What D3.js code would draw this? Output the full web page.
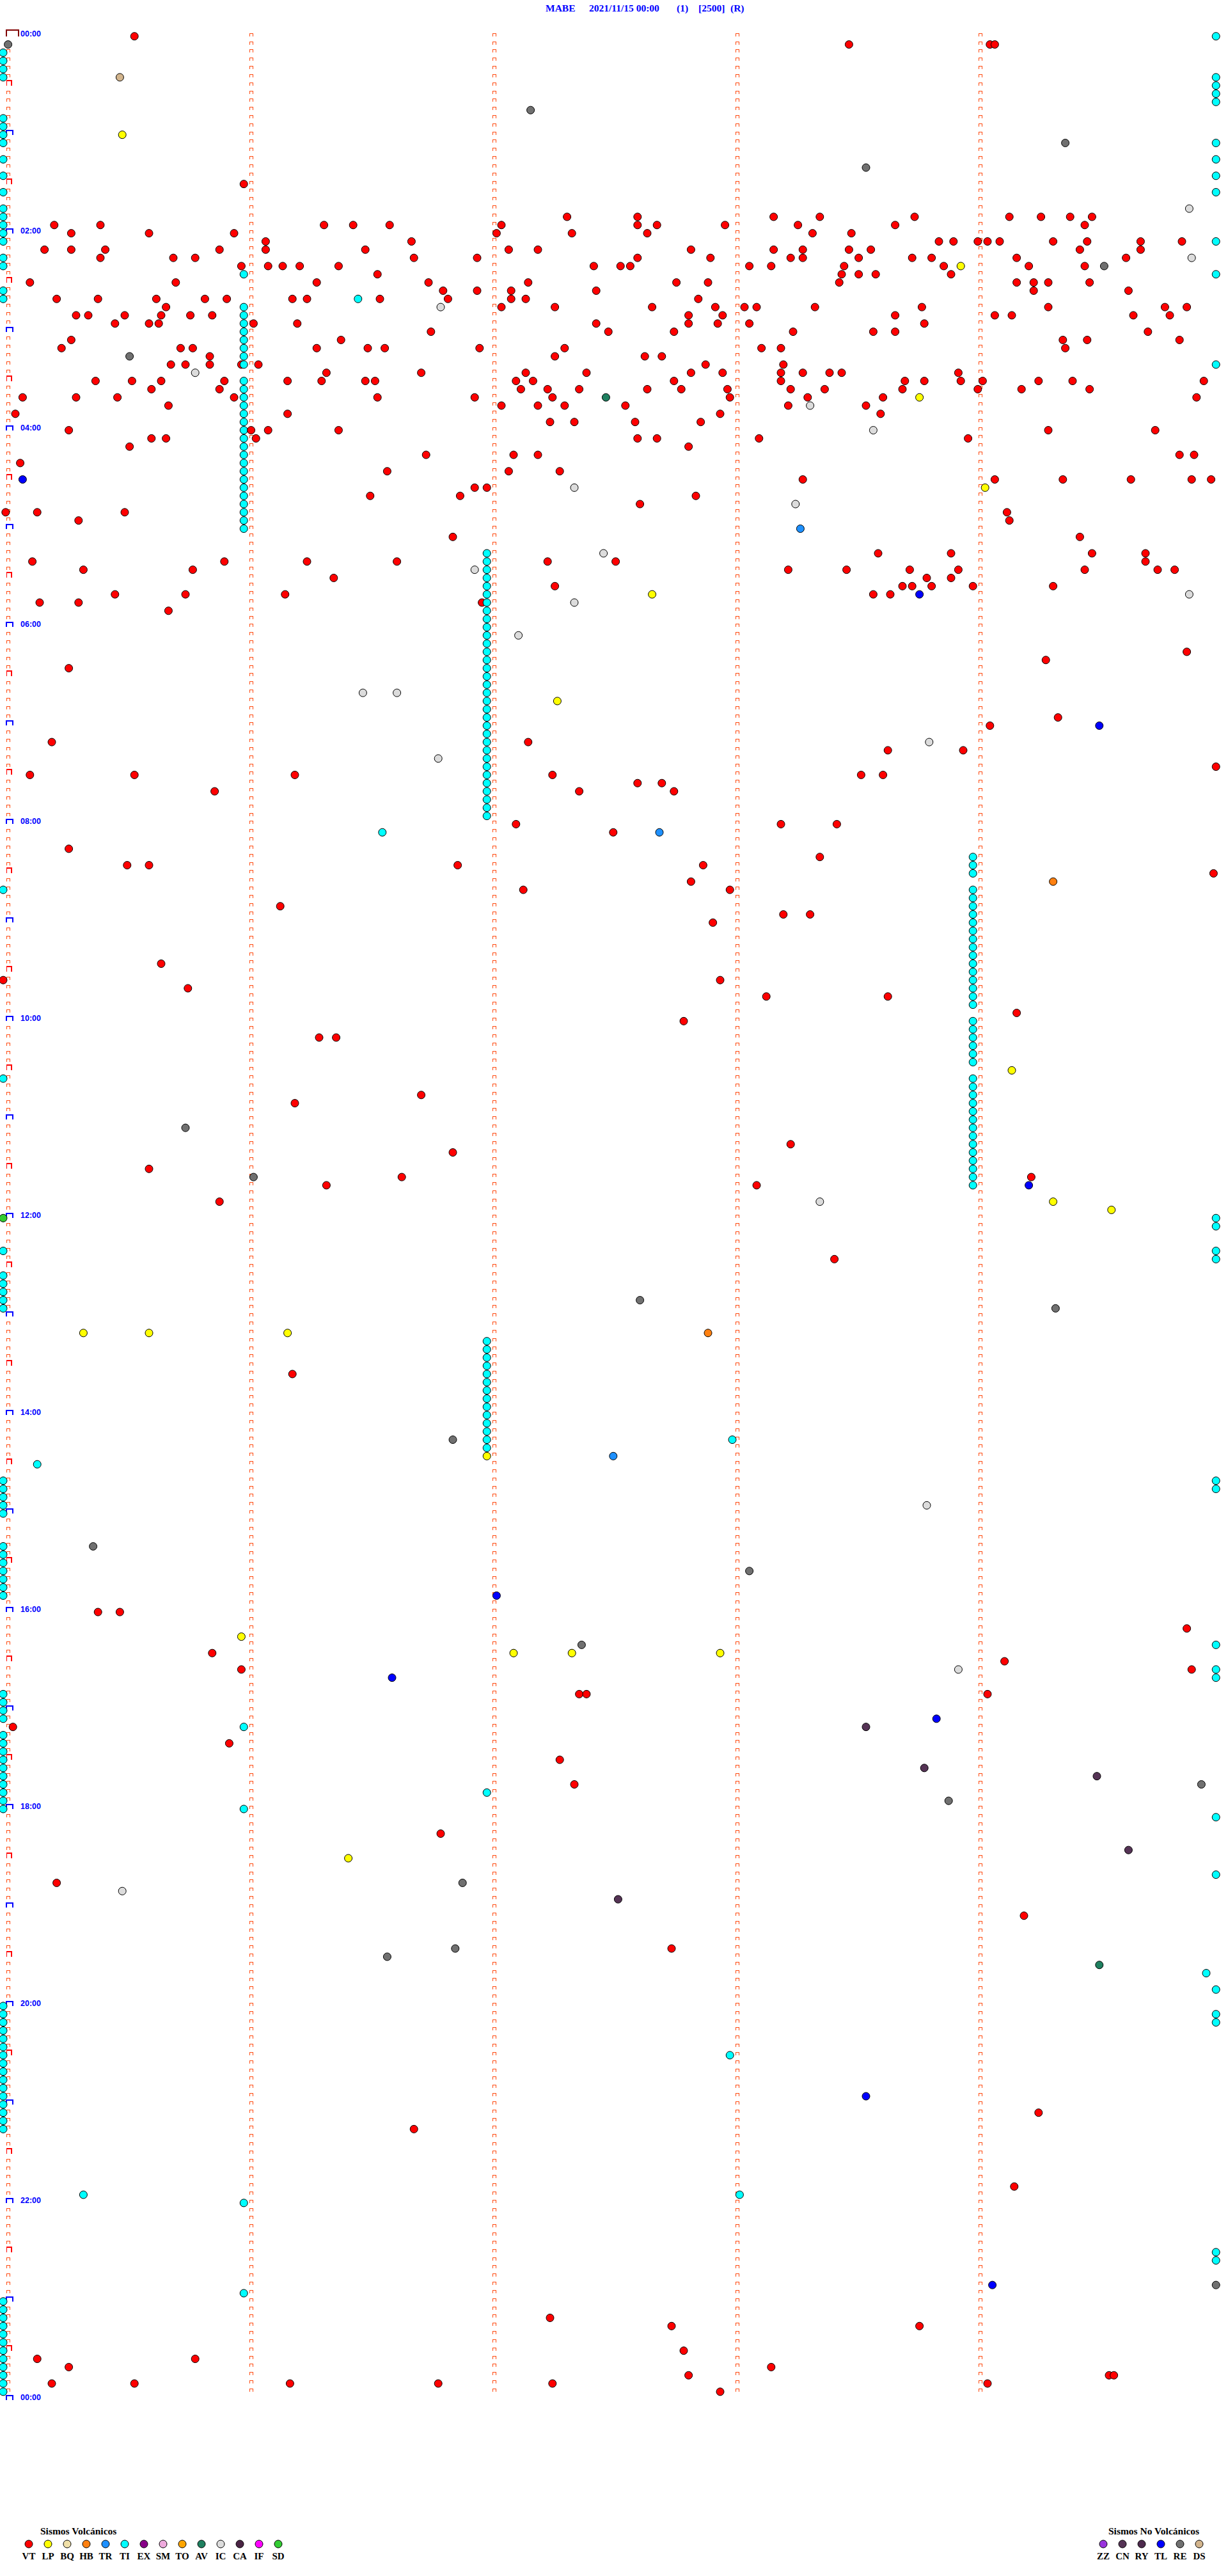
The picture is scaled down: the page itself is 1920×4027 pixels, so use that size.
<!DOCTYPE html>
<html><head><meta charset="utf-8">
<script src="https://cdn.jsdelivr.net/npm/d3@7"></script>
<style>body{margin:0;background:#fff}svg{display:block}</style>
</head><body>
<svg id="c" width="1920" height="4027"></svg>
<script>
// ---- axis / layout data ----
const rowMinutes = 5;          // each drum line = 5 minutes
const rowCount = 288;          // 24 h
const minuteTicks = [0, 1, 2, 3, 4];
const hourLabels = ["00:00","02:00","04:00","06:00","08:00","10:00","12:00","14:00","16:00","18:00","20:00","22:00","00:00"];
const titleParts = ["MABE", "2021/11/15 00:00", "(1)", "[2500]", "(R)"];

// ---- legend ----
const volcanicCodes  = ["VT","LP","BQ","HB","TR","TI","EX","SM","TO","AV","IC","CA","IF","SD"];
const volcanicColors = ["#ff0000","#ffff00","#f0e0a8","#ff8010","#1e90ff","#00ffff","#880088","#eeaadd","#ffa500","#1f8060","#dcdcdc","#4a2444","#ff00ff","#33cc33"];
const nonVolcCodes   = ["ZZ","CN","RY","TL","RE","DS"];
const nonVolcColors  = ["#9933dd","#553355","#4d2a4d","#0000ff","#707070","#d2b48c"];

// ---- events: minutes after 00:00 ----
const vtTimes = [0.54,8.48,9.06,9.08,90.99,
112.32,112.61,113.17,113.36,113.75,114.14,114.27,114.39,114.48,
115.21,115.40,116.32,116.44,116.59,117.05,117.61,117.69,117.97,118.27,118.67,119.45,
120.28,120.60,120.95,122.03,122.34,122.65,123.33,123.49,
126.08,126.68,128.85,128.91,129.01,129.05,129.10,129.32,129.46,129.68,129.85,
130.17,130.28,130.42,130.89,131.08,131.49,132.08,132.20,132.83,133.17,133.29,133.48,133.57,134.43,134.68,
135.40,135.70,135.79,136.69,136.95,137.61,137.91,138.24,138.29,138.52,138.74,138.82,139.17,139.62,
140.98,141.09,141.15,141.22,141.38,142.43,142.54,142.58,143.07,143.16,143.46,143.87,144.22,144.45,
146.54,148.45,148.52,148.59,148.90,
150.11,150.71,151.29,151.75,152.16,152.77,152.90,153.44,154.17,154.24,154.30,154.47,
156.81,156.95,157.09,157.44,159.24,159.63,
160.22,160.39,160.63,160.83,160.92,161.19,161.25,161.55,161.83,162.09,162.15,162.86,
165.67,167.05,167.27,167.67,167.93,168.05,168.10,168.34,168.78,169.30,169.78,169.87,
170.30,170.35,170.50,170.65,170.77,170.86,172.82,172.96,173.67,174.08,174.15,174.65,174.80,
175.46,175.60,175.64,176.03,176.21,177.44,177.82,177.94,178.07,178.79,
181.76,182.49,182.76,183.25,183.58,183.67,184.71,
185.28,186.39,189.36,189.46,189.84,
190.24,190.73,190.78,191.29,191.50,191.57,191.96,192.31,193.12,193.20,194.37,
195.85,197.27,197.64,197.71,
200.69,200.75,200.85,200.98,201.05,202.89,203.21,
206.33,206.72,207.15,207.40,207.83,207.96,208.20,208.29,208.40,208.45,208.93,
210.38,210.53,210.65,210.91,211.17,211.31,211.49,211.53,212.11,212.18,212.76,213.20,213.71,213.79,213.94,214.03,214.26,214.40,214.94,
215.61,215.89,217.13,217.24,217.37,217.65,217.79,217.98,218.24,218.38,218.70,219.01,219.19,219.47,
220.08,220.30,220.47,220.95,221.54,221.94,222.26,222.99,223.31,223.62,224.91,
225.68,227.05,227.20,227.31,227.56,228.23,228.55,
230.05,231.17,232.95,233.61,
237.25,237.35,237.60,237.87,
240.27,241.02,241.09,241.38,244.30,244.74,
245.61,245.67,246.04,247.61,247.69,248.11,248.97,
250.52,252.82,
256.74,257.10,257.20,259.84,259.90,
260.07,266.58,267.08,267.29,
273.29,274.08,274.36,274.64,274.89,274.97,
276.94,276.99,281.51,281.88,282.85,287.62,
290.01,290.14,290.50,294.13,295.31,299.14,306.85,309.43,
318.60,318.90,319.48,319.70,
320.12,320.91,321.25,321.62,322.24,322.52,324.70,
325.33,325.78,328.23,328.47,328.73,328.93,329.45,329.75,329.82,
331.36,333.80,333.90,
337.27,338.70,338.74,338.82,338.99,339.32,
340.46,340.75,341.16,343.58,343.65,
345.15,345.31,346.97,350.68,
379.87,384.29,385.27,419.34,424.06,430.20,432.16,438.64,438.95,449.99,
450.11,450.54,451.20,452.26,453.53,453.62,457.61,457.71,460.87,462.37,462.76,
482.11,483.20,483.43,487.51,495.27,503.36,505.51,505.60,506.87,507.88,514.98,517.83,522.14,522.99,
531.14,538.21,538.32,542.92,565.65,575.00,577.95,580.76,588.14,588.64,599.17,602.80,611.30,611.37,
646.72,651.20,678.24,681.85,690.60,696.64,699.23,701.33,703.10,710.89,748.42,816.19,
960.39,960.48,974.87,985.86,994.12,995.98,999.89,1012.37,1012.40,1014.05,1030.04,1040.93,1052.29,1067.35,
1096.80,1125.22,1149.20,1167.75,1269.26,1276.69,1314.16,
1392.25,1397.75,1398.77,1412.80,1415.14,1415.79,1420.27,1423.16,1427.82,1429.55,1429.57,
1430.20,1430.54,1431.18,1431.79,1432.26,1434.05,1437.95];

const tiTimes = [10,15,20,25,50,55,60,65,75,85,95,105,110,115,120,125,135,140,155,160,
520,635,740,755,760,765,770,775,880,885,890,895,900,920,925,930,935,940,945,950,
1010,1015,1020,1025,1035,1040,1045,1050,1055,1060,1065,1070,1075,1080,
1200,1205,1210,1215,1220,1225,1230,1235,1240,1245,1250,1255,1260,1265,1270,1275,
1380,1385,1390,1395,1400,1405,1410,1415,1420,1425,1430,1435,
4.99,29.99,34.99,39.99,44.99,69.99,79.99,89.99,99.99,129.99,149.99,204.99,
724.99,729.99,744.99,749.99,884.99,889.99,984.99,999.99,1004.99,1089.99,1124.99,1184.95,1194.99,1209.99,1214.99,1354.99,1359.99,
145.99,165.99,170.99,175.99,180.99,185.99,190.99,195.99,200.99,210.99,215.99,220.99,225.99,230.99,235.99,240.99,245.99,
250.99,255.99,260.99,265.99,270.99,275.99,280.99,285.99,290.99,295.99,300.99,
316.99,321.99,326.99,331.99,336.99,341.99,346.99,351.99,356.99,361.99,366.99,371.99,376.99,381.99,386.99,391.99,396.99,
401.99,406.99,411.99,416.99,421.99,426.99,431.99,436.99,441.99,446.99,451.99,456.99,461.99,466.99,471.99,476.99,
796.99,801.99,806.99,811.99,816.99,821.99,826.99,831.99,836.99,841.99,846.99,851.99,856.99,861.99,
503.99,508.99,513.99,523.99,528.99,533.99,538.99,543.99,548.99,553.99,558.99,563.99,568.99,573.99,578.99,583.99,588.99,593.99,
603.99,608.99,613.99,618.99,623.99,628.99,638.99,643.99,648.99,653.99,658.99,663.99,668.99,673.99,678.99,683.99,688.99,693.99,698.99,703.99,
161.46,486.56,858.00,870.14,1030.99,1071.99,1080.99,1232.99,1315.33,1318.03,1320.99,1375.99];

const lpTimes = [60.49,143.94,223.77,279.04,342.67,407.28,634.15,714.32,719.56,790.33,790.60,791.17,866.99,975.98,987.10,987.34,987.95,1111.42];
const icTimes = [109.88,139.89,166.80,205.79,228.32,243.58,277.35,288.26,317.47,326.94,344.88,347.35,367.12,401.48,401.62,433.81,441.79,713.36,898.80,998.93,1130.49];
const reTimes = [5.02,47.17,69.37,83.55,144.53,195.52,665.75,696.03,772.62,779.33,856.85,920.37,938.07,982.38,1069.93,1078.89,1126.89,1166.86,1171.58,1374.99];
const cnTimes = [1033.55,1058.79,1064.50,1109.63,1137.53];
const dsTimes = [25.48];
const tlTimes = [270.08,343.77,424.51,704.22,952.03,1001.60,1028.84,1258.55,1374.07];
const trTimes = [303.28,487.70,867.51];
const hbTimes = [519.32,792.90];
const avTimes = [222.48,1179.51];
const sdTimes = [720.00];

// ---- build ----
const colorOf = {};
volcanicCodes.forEach((c,i)=>colorOf[c]=volcanicColors[i]);
nonVolcCodes.forEach((c,i)=>colorOf[c]=nonVolcColors[i]);
const series = [["VT",vtTimes],["LP",lpTimes],["IC",icTimes],["RE",reTimes],["CN",cnTimes],["DS",dsTimes],
  ["TL",tlTimes],["TR",trTimes],["HB",hbTimes],["AV",avTimes],["SD",sdTimes],["TI",tiTimes]];
const events = [];
series.forEach(([code,arr])=>arr.forEach(t=>events.push({code,t})));
events.sort((a,b)=>a.t-b.t);

const svg = d3.select("#c");
const x = d3.scaleLinear().domain([0, rowMinutes]).range([5, 1905]);
const y = d3.scaleLinear().domain([0, rowCount]).range([56.7, 56.7 + 12.83*rowCount]);

// title
const titleX = [853, 921, 1058, 1092, 1142];
svg.append("g").selectAll("text").data(titleParts).join("text")
  .attr("x",(d,i)=>titleX[i]).attr("y",17.5)
  .attr("font-family","'Liberation Serif','Times New Roman',serif").attr("font-weight","bold")
  .attr("font-size",15.5).attr("fill","#0000ff").text(d=>d);

// minute tick markers per row
const markerRows = d3.range(rowCount);
const mk = svg.append("g").attr("fill","none").attr("shape-rendering","crispEdges");
markerRows.forEach(r=>{
  minuteTicks.forEach(k=>{
    if (k===0 && r%6===0) return;
    const cx = Math.round(x(k)+8), cy = Math.round(y(r));
    mk.append("path").attr("d",`M${cx-2.5},${cy} V${cy-5} H${cx+2.5} V${cy}`)
      .attr("stroke","#ff4a10").attr("stroke-width",1);
  });
});
// half-hour / hour brackets
d3.range(0, rowCount+1, 6).forEach(r=>{
  const cy = Math.round(y(r));
  if (r===0) {
    mk.append("path").attr("d",`M10,${cy} V${cy-10} H29 V${cy}`).attr("stroke","#800000").attr("stroke-width",2);
  } else if (r%12===0) {
    mk.append("path").attr("d",`M10,${cy} V${cy-7} H20 V${cy}`).attr("stroke","#0000ff").attr("stroke-width",2);
  } else {
    mk.append("path").attr("d",`M10.5,${cy} V${cy-8} H18 V${cy}`).attr("stroke","#ff0000").attr("stroke-width",1.3);
  }
});
// hour labels
svg.append("g").selectAll("text").data(hourLabels).join("text")
  .attr("x",32).attr("y",(d,i)=>y(i*24))
  .attr("font-family","'Liberation Sans',Arial,sans-serif").attr("font-weight","bold")
  .attr("font-size",12.5).attr("fill","#0000ff").text(d=>d);

// events
svg.append("g").selectAll("circle").data(events).join("circle")
  .attr("cx",d=>{const r=Math.floor(d.t/rowMinutes);return x(d.t-r*rowMinutes);})
  .attr("cy",d=>y(Math.floor(d.t/rowMinutes)))
  .attr("r",6).attr("fill",d=>colorOf[d.code]).attr("stroke","#000").attr("stroke-width",1);

// legends
const serif = "'Liberation Serif','Times New Roman',serif";
function legend(title, titleX, codes, colors, x0){
  const g = svg.append("g");
  g.append("text").attr("x",titleX).attr("y",3962).attr("font-family",serif).attr("font-weight","bold")
    .attr("font-size",15.5).attr("fill","#000").text(title);
  const lx = d3.scalePoint().domain(codes).range([x0, x0+30*(codes.length-1)]);
  g.selectAll("circle").data(codes).join("circle").attr("cx",d=>lx(d)).attr("cy",3977).attr("r",6)
    .attr("fill",(d,i)=>colors[i]).attr("stroke","#000");
  g.selectAll("text.l").data(codes).join("text").attr("class","l").attr("x",d=>lx(d)).attr("y",4001)
    .attr("text-anchor","middle").attr("font-family",serif).attr("font-weight","bold").attr("font-size",15)
    .text(d=>d);
}
legend("Sismos Volcánicos", 63, volcanicCodes, volcanicColors, 45);
legend("Sismos No Volcánicos", 1733, nonVolcCodes, nonVolcColors, 1725);
</script>
</body></html>
